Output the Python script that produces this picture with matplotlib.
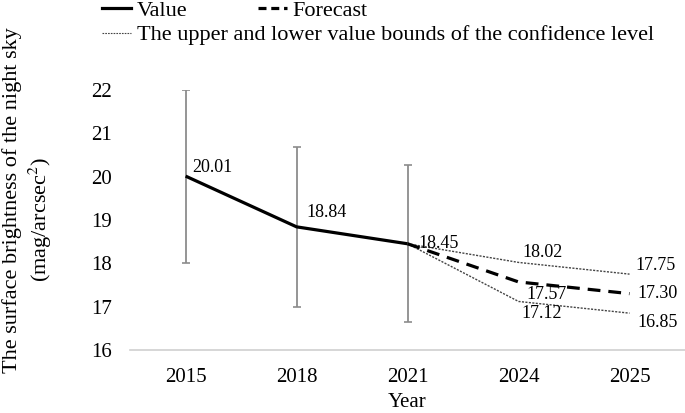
import matplotlib.pyplot as plt
from matplotlib.lines import Line2D

plt.rcParams['font.family'] = ['Liberation Serif', 'DejaVu Serif']
plt.rcParams['mathtext.fontset'] = 'stix'

# du lieu
years = ['2015', '2018', '2021', '2024', '2025']
value = [20.01, 18.84, 18.45]
forecast = [18.45, 17.57, 17.30]
upper = [18.45, 18.02, 17.75]
lower = [18.45, 17.12, 16.85]
err_low = [18.0, 17.0, 16.65]
err_high = [22.0, 20.68, 20.26]

x = list(range(len(years)))
xv = x[:3]
xf = x[2:]

fig = plt.figure(figsize=(6.85, 4.13), dpi=100)
ax = fig.add_axes([0.19, 0.1525, 0.81, 0.63])

# thanh sai so
for i in range(3):
    ax.errorbar(xv[i], value[i],
                yerr=[[value[i] - err_low[i]], [err_high[i] - value[i]]],
                fmt='none', ecolor='#8c8c8c', elinewidth=1.3, capsize=3, capthick=1.2)

ax.plot(xv, value, color='black', lw=2.3, solid_capstyle='butt')
ax.plot(xf, upper, color='#444444', lw=1.0, ls=(0, (1.5, 1)))
ax.plot(xf, lower, color='#444444', lw=1.0, ls=(0, (1.5, 1)))
ax.plot(xf, forecast, color='black', lw=2.3, ls=(0, (4, 2.5)))

fs = 15
fa = 13
# nhan so lieu: (chuoi, x, y, dx, dy, ha)
labels = [
    ('20.01', 0, 20.01, 5, 6, 'left'),
    ('18.84', 1, 18.84, 7, 10, 'left'),
    ('18.45', 2, 18.45, 8, 0, 'left'),
    ('18.02', 3, 18.02, 17, 7, 'center'),
    ('17.57', 3, 17.57, 20, -9, 'center'),
    ('17.12', 3, 17.12, 17, -9, 'center'),
    ('17.75', 4, 17.75, 4, 6, 'left'),
    ('17.30', 4, 17.30, 6, 0, 'left'),
    ('16.85', 4, 16.85, 6, -6.5, 'left'),
]
for t, xi, yi, dx, dy, ha in labels:
    ax.annotate(t, (xi, yi), xytext=(dx, dy), textcoords='offset points',
                fontsize=fa, va='center', ha=ha, annotation_clip=False)

ax.set_xlim(-0.5, 4.5)
ax.set_ylim(16, 22)
ax.set_xticks(x)
ax.set_xticklabels(years)
ax.set_yticks(range(16, 23))
ax.tick_params(axis='both', length=0, labelsize=fs)
ax.tick_params(axis='y', pad=13)
ax.tick_params(axis='x', pad=13)
for s in ['top', 'right', 'left']:
    ax.spines[s].set_visible(False)
ax.spines['bottom'].set_color('#d0d0d0')
ax.spines['bottom'].set_linewidth(1.2)

ax.set_xlabel('Year', fontsize=fs, labelpad=4)

# nhan truc y: hai dong rieng
fig.text(12 / 685, 1 - 200 / 413, 'The surface brightness of the night sky', rotation=90,
         fontsize=16, ha='center', va='center')
fig.text(40 / 685, 1 - 219 / 413, '(mag/arcsec$^2$)', rotation=90,
         fontsize=16, ha='center', va='center')

# chu thich
h1 = Line2D([], [], color='black', lw=2.3)
h2 = Line2D([], [], color='black', lw=2.3, ls=(0, (2.5, 1.5)))
h3 = Line2D([], [], color='#444444', lw=0.8, ls=(0, (1.5, 1)))
fig.legend([h1, h2], ['Value', 'Forecast'], loc='upper left', bbox_to_anchor=(0.149, 1.0),
           ncol=2, frameon=False, fontsize=16, handlelength=1.3, handletextpad=0.25,
           columnspacing=3.2, borderpad=0, borderaxespad=0)
fig.legend([h3], ['The upper and lower value bounds of the confidence level'], loc='upper left',
           bbox_to_anchor=(0.149, 0.94), frameon=False, fontsize=16, handlelength=1.3,
           handletextpad=0.25, borderpad=0, borderaxespad=0)

plt.savefig('out.png', dpi=100)
